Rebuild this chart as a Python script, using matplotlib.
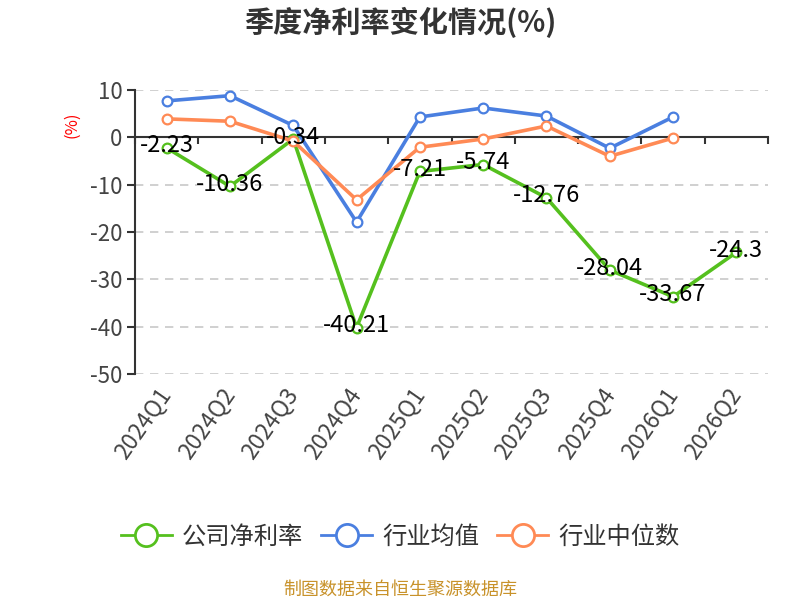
import matplotlib
matplotlib.use("Agg")
import matplotlib.pyplot as plt
from matplotlib.lines import Line2D
import numpy as np

plt.rcParams['font.family'] = ['Noto Sans CJK SC', 'DejaVu Sans']

quarters = ["2024Q1", "2024Q2", "2024Q3", "2024Q4", "2025Q1", "2025Q2",
            "2025Q3", "2025Q4", "2026Q1", "2026Q2"]
company = [-2.23, -10.36, -0.34, -40.21, -7.21, -5.74, -12.76, -28.04, -33.67, -24.3]
industry_avg = [7.7, 8.8, 2.5, -17.9, 4.3, 6.2, 4.5, -2.3, 4.3]
industry_median = [3.9, 3.4, -0.8, -13.2, -2.1, -0.35, 2.4, -4.0, -0.15]
yticks = [10, 0, -10, -20, -30, -40, -50]
names = ['公司净利率', '行业均值', '行业中位数']

green = '#55C01E'
blue = '#4A7FE0'
orange = '#FF8A55'
axis_col = '#333333'

fig = plt.figure(figsize=(8, 6), dpi=100)
ax = fig.add_axes([135/800, 1-374/600, (768-135)/800, (374-90)/600])

x = np.arange(len(quarters))
mk = dict(marker='o', markersize=7, markerfacecolor='white', markeredgewidth=1.6)
ax.plot(x[:len(company)], company, color=green, lw=2.6, markeredgecolor=green, zorder=3, **mk)
ax.plot(x[:len(industry_avg)], industry_avg, color=blue, lw=2.6, markeredgecolor=blue, zorder=4, **mk)
ax.plot(x[:len(industry_median)], industry_median, color=orange, lw=2.6, markeredgecolor=orange, zorder=5, **mk)

for xi, v in zip(x, company):
    ax.text(xi, v + 0.4, f"{v:g}", ha='center', va='center', fontsize=17, color='black', zorder=10)

ax.set_xlim(-0.5, len(quarters) - 0.5)
ax.set_ylim(-50, 10)
ax.set_yticks(yticks)
ax.set_yticklabels([str(t) for t in yticks])
for t in yticks:
    if t != 0:
        ax.axhline(t, color='#C8C8C8', lw=1.2, ls=(0, (5, 4)), zorder=1)

ax.spines['top'].set_visible(False)
ax.spines['right'].set_visible(False)
ax.spines['bottom'].set_visible(False)
ax.spines['left'].set_color(axis_col)
ax.spines['left'].set_linewidth(1.5)
ax.tick_params(axis='y', length=6, width=1.5, color=axis_col, labelsize=16, labelcolor='#444444', pad=3)

ax.set_xticks(x)
ax.set_xticklabels(quarters, rotation=55, ha='right', rotation_mode='anchor', va='center')
ax.tick_params(axis='x', length=0, labelsize=16.5, labelcolor='#444444', pad=12)

# zero axis line with boundary ticks
sec = ax.secondary_xaxis(0, transform=ax.transData)
sec.spines['bottom'].set_color(axis_col)
sec.spines['bottom'].set_linewidth(1.5)
sec.set_xticks(np.arange(len(quarters) + 1) - 0.5)
sec.set_xticklabels([])
sec.tick_params(axis='x', length=5, width=1.5, color=axis_col)

fig.text(0.5, 1-22/600, '季度净利率变化情况(%)', ha='center', va='center', fontsize=21,
         fontweight='bold', color='#333333')
fig.text(72/800, 1-125/600, '(%)', rotation=90, ha='center', va='center', fontsize=12, color='red')

handles = [Line2D([], [], color=c, lw=2, marker='o', markersize=16, markerfacecolor='white',
                  markeredgecolor=c, markeredgewidth=2) for c in (green, blue, orange)]
fig.legend(handles=handles, labels=names, loc='center', bbox_to_anchor=(0.5, 1-537/600), ncol=3,
           frameon=False, fontsize=17.5, handlelength=2.1, columnspacing=0.75, handletextpad=0.4,
           labelcolor='#333333')
fig.text(0.5, 1-590/600, '制图数据来自恒生聚源数据库', ha='center', va='center', fontsize=13, color='#C8922A')

fig.savefig('out.png', dpi=100)
